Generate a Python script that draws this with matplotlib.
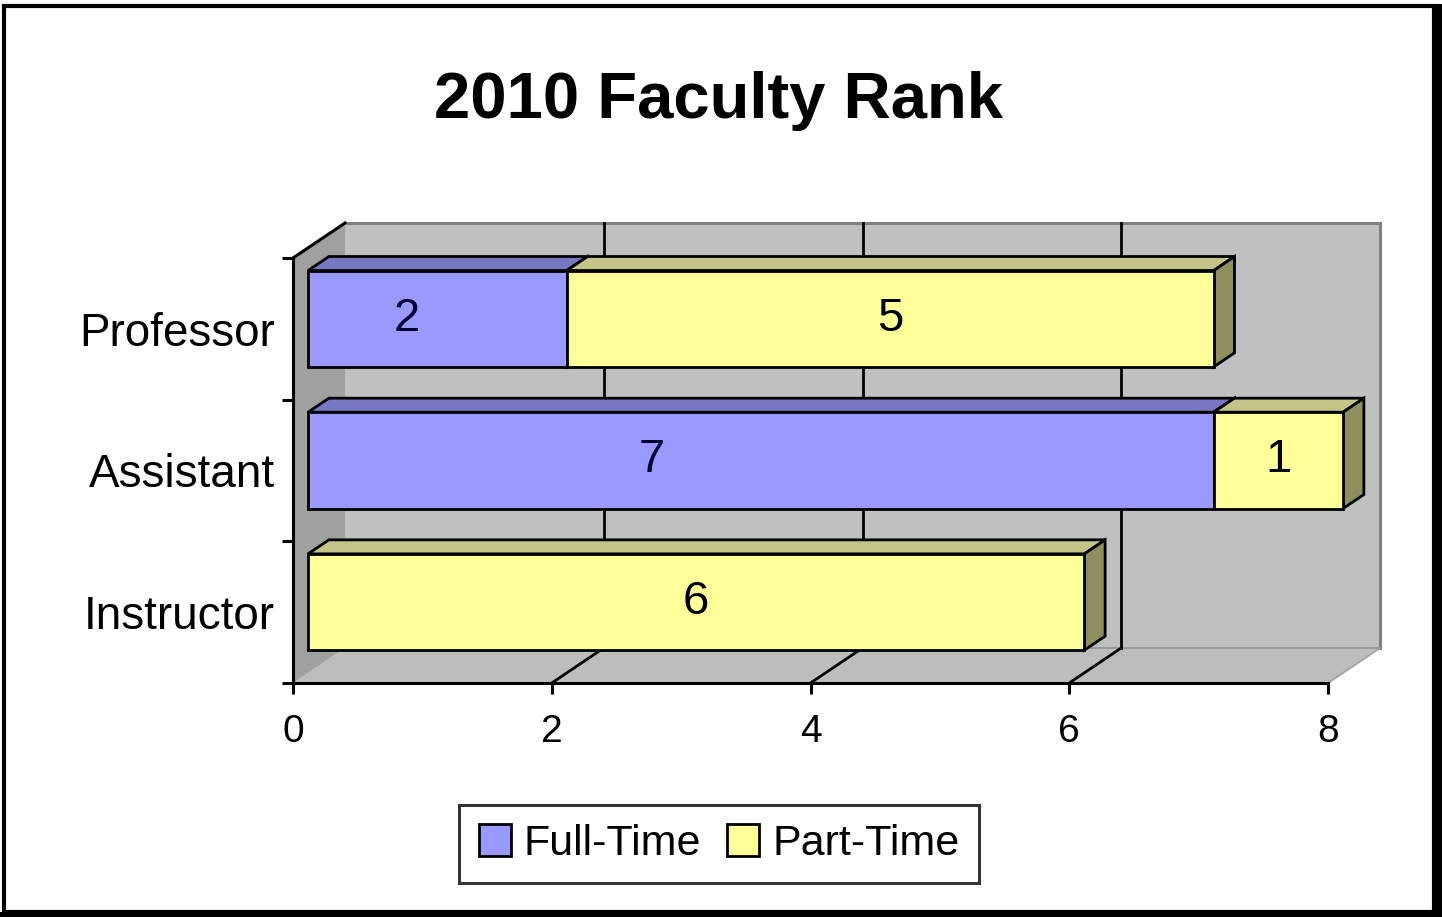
import matplotlib
matplotlib.use("Agg")
import matplotlib.pyplot as plt
import numpy as np
from matplotlib.patches import Polygon, Rectangle
from matplotlib.transforms import IdentityTransform
from matplotlib.lines import Line2D

plt.rcParams['font.family'] = ['Liberation Sans', 'DejaVu Sans']

# ---- data ----
categories = ["Instructor", "Assistant", "Professor"]
full_time = [0, 7, 2]
part_time = [6, 1, 5]
series_names = ["Full-Time", "Part-Time"]
x_ticks = [0, 2, 4, 6, 8]
title = "2010 Faculty Rank"

# ---- style ----
FT_FRONT, FT_TOP, FT_SIDE = "#9999FF", "#7777C4", "#6666AA"
PT_FRONT, PT_TOP, PT_SIDE = "#FFFF99", "#C4C488", "#8F8F5E"
WALL, LEFTWALL, FLOOR = "#C0C0C0", "#A0A0A0", "#BDBDBD"
DX, DY = 52.0, 35.0          # depth offset of the back wall, pixels
D0, D1 = 0.29, 0.69          # bar front/back depth fractions
BAR_H = 0.68
W, H = 1442, 917

fig = plt.figure(figsize=(W / 100, H / 100), dpi=100)
ax = fig.add_axes([293 / W, (H - 683) / H, (1328 - 293) / W, (683 - 258) / H])
ax.set_xlim(0, 8)
ax.set_ylim(-0.5, 2.5)
ax.set_facecolor("none")
for s in ["top", "right"]:
    ax.spines[s].set_visible(False)
for s in ["left", "bottom"]:
    ax.spines[s].set_linewidth(2.2)
    ax.spines[s].set_zorder(20)

ypos = np.arange(len(categories))
ax.set_yticks(np.arange(-0.5, len(categories), 1.0))
ax.set_yticklabels([])
ax.set_yticks(ypos, minor=True)
ax.set_yticklabels(categories, minor=True, fontsize=33)
ax.tick_params(axis="y", which="minor", length=0, pad=13)
ax.tick_params(axis="y", which="major", length=8, width=2.2, direction="out")
ax.set_xticks(x_ticks)
ax.set_xticklabels([str(t) for t in x_ticks], fontsize=28)
ax.tick_params(axis="x", length=8, width=2.2, direction="out", pad=14)

fig.canvas.draw()
I = IdentityTransform()


def P(x, y, d):
    px, py = ax.transData.transform((x, y))
    return (px + d * DX, py + d * DY)


def poly(pts, fc, ec="black", lw=2.0, z=1):
    ax.add_patch(Polygon(pts, closed=True, facecolor=fc, edgecolor=ec,
                         linewidth=lw, transform=I, clip_on=False, zorder=z,
                         joinstyle="miter"))


def line(p1, p2, c="black", lw=2.0, z=2):
    ax.add_line(Line2D([p1[0], p2[0]], [p1[1], p2[1]], color=c, linewidth=lw,
                       transform=I, clip_on=False, zorder=z))


y0, y1 = -0.5, len(categories) - 0.5
x0, x1 = 0, 8
# back wall
poly([P(x0, y0, 1), P(x1, y0, 1), P(x1, y1, 1), P(x0, y1, 1)], WALL, ec="none", z=1)
line(P(x0, y1, 1), P(x1, y1, 1), c="#808080", lw=2.2, z=1.5)
line(P(x1, y1, 1), P(x1, y0, 1), c="#808080", lw=2.2, z=1.5)
# floor
poly([P(x0, y0, 0), P(x1, y0, 0), P(x1, y0, 1), P(x0, y0, 1)], FLOOR, ec="none", z=1)
line(P(x1, y0, 0), P(x1, y0, 1), c="#A8A8A8", lw=1.5, z=1.5)
line(P(x0, y0, 1), P(x1, y0, 1), c="#9A9A9A", lw=1.5, z=1.5)
# left wall
poly([P(x0, y0, 0), P(x0, y1, 0), P(x0, y1, 1), P(x0, y0, 1)], LEFTWALL, ec="none", z=1.2)
line(P(x0, y1, 0), P(x0, y1, 1), c="black", lw=2.2, z=1.6)
# gridlines
for t in x_ticks[1:-1]:
    line(P(t, y0, 1), P(t, y1, 1), lw=2.0, z=1.7)
    line(P(t, y0, 0), P(t, y0, 1), lw=2.0, z=1.7)

# bars (drawn from back row to front row)
label_frac = [0.38, 0.5]
fronts = [(FT_FRONT, FT_TOP, FT_SIDE), (PT_FRONT, PT_TOP, PT_SIDE)]
order = np.argsort(-ypos)
for i in order:
    yc = ypos[i]
    yb, yt = yc - BAR_H / 2, yc + BAR_H / 2
    left = 0.0
    z = 5 + (len(categories) - yc) * 3
    for k, vals in enumerate([full_time, part_time]):
        v = vals[i]
        if v <= 0:
            continue
        fc, tc, sc = fronts[k]
        r = left + v
        poly([P(left, yt, D0), P(r, yt, D0), P(r, yt, D1), P(left, yt, D1)], tc, z=z)
        poly([P(r, yb, D0), P(r, yt, D0), P(r, yt, D1), P(r, yb, D1)], sc, z=z)
        poly([P(left, yb, D0), P(r, yb, D0), P(r, yt, D0), P(left, yt, D0)], fc, z=z + 1)
        tx, ty = P(left + v * label_frac[k], yc, D0)
        ax.text(tx, ty, str(v), transform=I, ha="center", va="center",
                fontsize=34, color="#000033" if k == 0 else "black", zorder=z + 2)
        left = r

# title
fig.text(719 / W, 1 - 101 / H, title, ha="center", va="center",
         fontsize=47, fontweight="bold")

# legend
handles = [Rectangle((0, 0), 1, 1, facecolor=FT_FRONT, edgecolor="black", linewidth=2),
           Rectangle((0, 0), 1, 1, facecolor=PT_FRONT, edgecolor="black", linewidth=2)]
leg = fig.legend(handles, series_names, loc="center", bbox_to_anchor=(719 / W, 1 - 844 / H),
                 ncol=2, fontsize=31, frameon=True, fancybox=False, handlelength=0.75,
                 handleheight=0.75, handletextpad=0.3, columnspacing=0.6,
                 borderpad=0.45, edgecolor="black")
leg.get_frame().set_linewidth(2.2)

# outer border with thick right edge
fig.add_artist(Rectangle((4 / W, 5 / H), (1434 - 4) / W, (911 - 5) / H,
                         transform=fig.transFigure, facecolor="none",
                         edgecolor="black", linewidth=3.0))
fig.add_artist(Rectangle((1432 / W, 0), 10 / W, 1 - 4 / H, transform=fig.transFigure,
                         facecolor="black", edgecolor="none"))
fig.add_artist(Rectangle((0, 0), 1, 5 / H, transform=fig.transFigure,
                         facecolor="black", edgecolor="none"))

fig.savefig("out.png", dpi=100)
